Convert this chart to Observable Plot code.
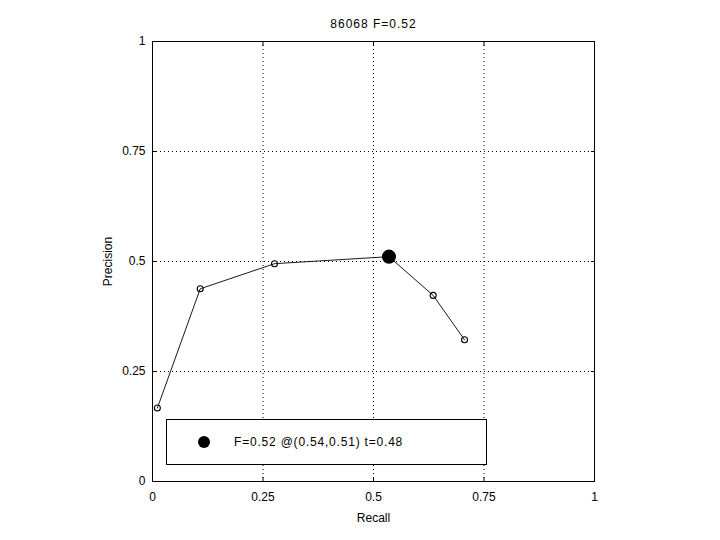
<!DOCTYPE html>
<html><head><meta charset="utf-8">
<script src="https://cdn.jsdelivr.net/npm/d3@7"></script>
<script src="https://cdn.jsdelivr.net/npm/@observablehq/plot@0.6"></script>
<style>
body{margin:0;background:#fff;}
#wrap{position:relative;width:720px;height:540px;font-family:"Liberation Sans",Arial,sans-serif;}
#legend{position:absolute;left:166px;top:419px;width:319px;height:44px;border:1px solid #000;background:#fff;font-size:12px;letter-spacing:0.8px;}
#legend .dot{position:absolute;left:31px;top:16px;width:12px;height:12px;border-radius:50%;background:#000;}
#legend .lbl{position:absolute;left:67px;top:15px;}
</style></head>
<body><div id="wrap"></div>
<script>
const title = "86068 F=0.52";
const recall = [0.011, 0.108, 0.276, 0.635, 0.706];
const precision = [0.167, 0.438, 0.495, 0.423, 0.322];
const curveRecall = [0.011, 0.108, 0.276, 0.535, 0.635, 0.706];
const curvePrecision = [0.167, 0.438, 0.495, 0.511, 0.423, 0.322];
const best = {recall: 0.535, precision: 0.511, f: 0.52, t: 0.48};
const ticks = [0, 0.25, 0.5, 0.75, 1];
const tickLabels = ["0", "0.25", "0.5", "0.75", "1"];

const curve = curveRecall.map((r, i) => ({r, p: curvePrecision[i]}));
const pts = recall.map((r, i) => ({r, p: precision[i]}));
const fmt = d => tickLabels[ticks.indexOf(d)];
const none = () => "";

const chart = Plot.plot({
  width: 720, height: 540,
  marginLeft: 152, marginRight: 126, marginTop: 41, marginBottom: 59,
  style: {fontFamily: "Liberation Sans, Arial, sans-serif", fontSize: "12px", color: "#000", background: "#fff"},
  x: {domain: [0, 1]},
  y: {domain: [0, 1]},
  marks: [
    Plot.gridX([0.25, 0.5, 0.75], {stroke: "#000", strokeOpacity: 1, strokeDasharray: "1,3"}),
    Plot.gridY([0.25, 0.5, 0.75], {stroke: "#000", strokeOpacity: 1, strokeDasharray: "1,3"}),
    Plot.axisX(ticks, {anchor: "bottom", tickSize: 0, tickPadding: 11, tickFormat: fmt, label: "Recall", labelAnchor: "center", labelOffset: 40, labelArrow: "none", fontSize: 12}),
    Plot.axisY(ticks, {anchor: "left", tickSize: 0, tickPadding: 7, tickFormat: fmt, label: "Precision", labelAnchor: "center", labelOffset: 49, labelArrow: "none", fontSize: 12}),
    Plot.axisX(ticks, {anchor: "bottom", tickSize: 4, dy: -4, tickFormat: none, label: null}),
    Plot.axisX(ticks, {anchor: "top", tickSize: 4, dy: 4, tickFormat: none, label: null}),
    Plot.axisY(ticks, {anchor: "left", tickSize: 4, dx: 4, tickFormat: none, label: null}),
    Plot.axisY(ticks, {anchor: "right", tickSize: 4, dx: -4, tickFormat: none, label: null}),
    Plot.frame({stroke: "#000"}),
    Plot.line(curve, {x: "r", y: "p", stroke: "#000", strokeWidth: 0.9}),
    Plot.dot(pts, {x: "r", y: "p", r: 3, stroke: "#000", fill: "none", strokeWidth: 1.1}),
    Plot.dot([best], {x: "recall", y: "precision", r: 6.3, fill: "#000", stroke: "#000"}),
    Plot.text([title], {frameAnchor: "top", dy: -22, text: d => d, fontSize: 12, fill: "#000", style: "letter-spacing:1px"})
  ]
});
const wrap = document.getElementById("wrap");
wrap.appendChild(chart);
chart.querySelectorAll("text").forEach(t => { if (t.textContent === title) t.style.letterSpacing = "1px"; });
const leg = document.createElement("div");
leg.id = "legend";
leg.innerHTML = `<div class="dot"></div><div class="lbl">F=${best.f.toFixed(2)} @(${(Math.round(best.recall*100)/100).toFixed(2)},${best.precision.toFixed(2)}) t=${best.t.toFixed(2)}</div>`;
wrap.appendChild(leg);
</script></body></html>
